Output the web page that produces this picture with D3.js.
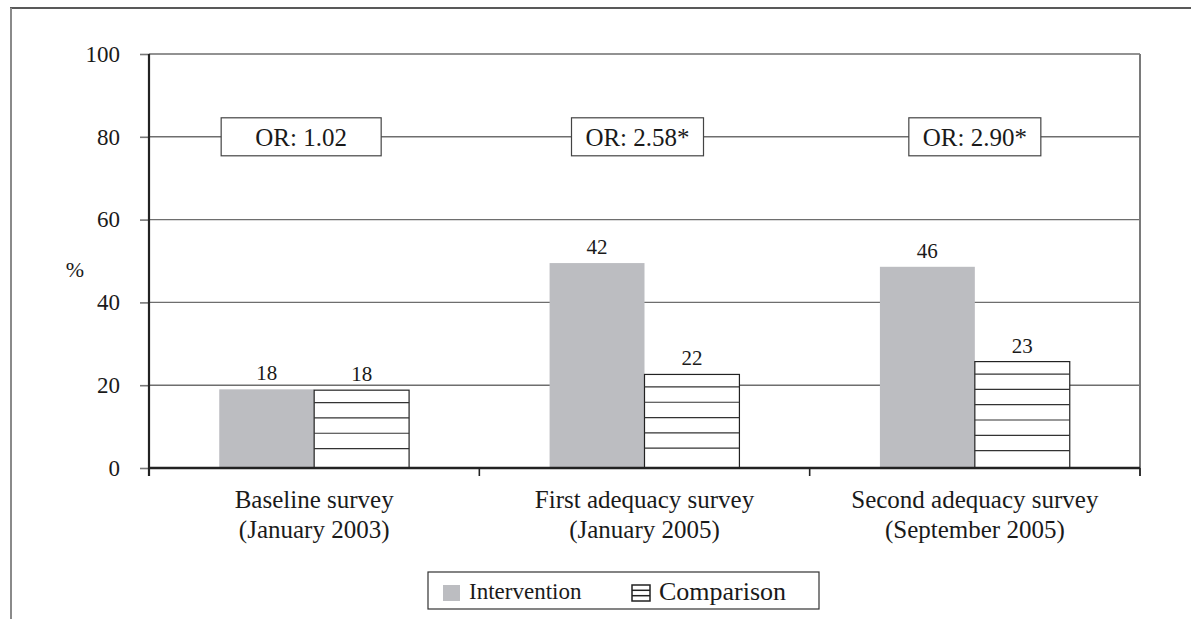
<!DOCTYPE html>
<html>
<head>
<meta charset="utf-8">
<script src="https://cdn.jsdelivr.net/npm/d3@7"></script>
<style>
  body { margin: 0; background: #fff; }
  svg { display: block; font-family: 'Liberation Serif', 'Times New Roman', serif; }
</style>
</head>
<body>
<svg id="chart" width="1191" height="619"></svg>
<script>
const categories = ['Baseline survey', 'First adequacy survey', 'Second adequacy survey']
const categoryDates = ['(January 2003)', '(January 2005)', '(September 2005)']
const seriesNames = ['Intervention', 'Comparison']
// bar heights as drawn in the picture
const interventionValues = [19, 49.5, 48.6]
const comparisonValues = [18.8, 22.6, 25.7]
// printed value labels
const interventionLabels = ['18', '42', '46']
const comparisonLabels = ['18', '22', '23']
const oddsRatios = ['OR: 1.02', 'OR: 2.58*', 'OR: 2.90*']
const orBoxShift = [-13, -7, 0]
const orBoxWidth = [160, 132, 132]
const yTicks = [0, 20, 40, 60, 80, 100]
const orLevel = 80

const margin = { top: 54, left: 149, right: 51, bottom: 151 }
const width = 1191
const height = 619
const plotW = width - margin.left - margin.right
const plotH = height - margin.top - margin.bottom
const ink = '#1a1a1a'

const svg = d3.select('#chart')

// page frame (cut out of a document)
svg.append('line')
  .attr('x1', 10).attr('x2', width).attr('y1', 8).attr('y2', 8)
  .style('stroke', '#222').style('stroke-width', 1.6)
svg.append('line')
  .attr('x1', 11).attr('x2', 11).attr('y1', 8).attr('y2', height)
  .style('stroke', '#8a8a8a').style('stroke-width', 2)

let g = svg.append('g')
  .attr('transform', `translate(${margin.left},${margin.top})`)

let xScale = d3.scaleBand()
  .domain(categories)
  .range([0, plotW])
let xSub = d3.scaleBand()
  .domain(seriesNames)
  .range([0, xScale.step()])
  .paddingInner(0)
  .paddingOuter(0.74)
let yScale = d3.scaleLinear()
  .domain([0, 100])
  .range([plotH, 0])

// grid lines
g.selectAll('.grid')
  .data(yTicks.filter(v => v > 0))
  .enter()
  .append('line')
  .classed('grid', true)
  .attr('x1', 0).attr('x2', plotW)
  .attr('y1', d => yScale(d)).attr('y2', d => yScale(d))
  .style('stroke', '#6e6e6e')
  .style('stroke-width', 1.4)
// right border
g.append('line')
  .attr('x1', plotW).attr('x2', plotW)
  .attr('y1', yScale(100)).attr('y2', plotH + 8)
  .style('stroke', '#7a7a7a').style('stroke-width', 2)

// y axis
let yAxis = g.append('g')
  .call(d3.axisLeft(yScale).tickValues(yTicks).tickSize(9).tickPadding(20))
yAxis.select('.domain').remove()
yAxis.selectAll('line').style('stroke', '#777').style('stroke-width', 1.6)
yAxis.selectAll('text')
  .style('font-family', "'Liberation Serif', serif")
  .style('font-size', '23px')
  .style('fill', ink)
g.append('line')
  .attr('x1', 0).attr('x2', 0)
  .attr('y1', yScale(100)).attr('y2', plotH + 8)
  .style('stroke', '#222').style('stroke-width', 2.2)

svg.append('text')
  .attr('x', 75).attr('y', 277)
  .attr('text-anchor', 'middle')
  .style('font-size', '22px')
  .style('fill', ink)
  .text('%')

// bars
let groups = g.selectAll('.group')
  .data(categories)
  .enter()
  .append('g')
  .classed('group', true)
  .attr('transform', d => `translate(${xScale(d)},0)`)

groups.append('rect')
  .attr('x', xSub('Intervention'))
  .attr('width', xSub.bandwidth())
  .attr('y', (d, i) => yScale(interventionValues[i]))
  .attr('height', (d, i) => plotH - yScale(interventionValues[i]))
  .style('fill', '#bcbdc1')

groups.append('rect')
  .attr('x', xSub('Comparison'))
  .attr('width', xSub.bandwidth())
  .attr('y', (d, i) => yScale(comparisonValues[i]))
  .attr('height', (d, i) => plotH - yScale(comparisonValues[i]))
  .style('fill', '#fff')
  .style('stroke', '#222')
  .style('stroke-width', 1.2)

// hatching inside comparison bars
groups.each(function (d, i) {
  let top = yScale(comparisonValues[i])
  let rows = d3.range(top + 12.5, plotH - 6, 15.3)
  d3.select(this).selectAll('.hatch')
    .data(rows)
    .enter()
    .append('line')
    .classed('hatch', true)
    .attr('x1', xSub('Comparison'))
    .attr('x2', xSub('Comparison') + xSub.bandwidth())
    .attr('y1', v => v).attr('y2', v => v)
    .style('stroke', '#333')
    .style('stroke-width', 1.2)
})

// value labels
groups.append('text')
  .attr('x', xSub('Intervention') + xSub.bandwidth() / 2)
  .attr('y', (d, i) => yScale(interventionValues[i]) - 9)
  .attr('text-anchor', 'middle')
  .style('font-size', '21px')
  .style('fill', ink)
  .text((d, i) => interventionLabels[i])
groups.append('text')
  .attr('x', xSub('Comparison') + xSub.bandwidth() / 2)
  .attr('y', (d, i) => yScale(comparisonValues[i]) - 9)
  .attr('text-anchor', 'middle')
  .style('font-size', '21px')
  .style('fill', ink)
  .text((d, i) => comparisonLabels[i])

// odds ratio boxes on the 80 line
groups.append('rect')
  .attr('x', (d, i) => xScale.bandwidth() / 2 + orBoxShift[i] - orBoxWidth[i] / 2)
  .attr('width', (d, i) => orBoxWidth[i])
  .attr('y', yScale(orLevel) - 19)
  .attr('height', 38)
  .style('fill', '#fff')
  .style('stroke', '#444')
  .style('stroke-width', 1.2)
groups.append('text')
  .attr('x', (d, i) => xScale.bandwidth() / 2 + orBoxShift[i])
  .attr('y', yScale(orLevel) + 9)
  .attr('text-anchor', 'middle')
  .style('font-size', '25px')
  .style('fill', ink)
  .text((d, i) => oddsRatios[i])

// x axis
g.append('line')
  .attr('x1', 0).attr('x2', plotW)
  .attr('y1', plotH).attr('y2', plotH)
  .style('stroke', '#222').style('stroke-width', 2.4)
g.selectAll('.xtick')
  .data(d3.range(categories.length + 1))
  .enter()
  .append('line')
  .classed('xtick', true)
  .attr('x1', i => i * xScale.step()).attr('x2', i => i * xScale.step())
  .attr('y1', plotH).attr('y2', plotH + 8)
  .style('stroke', '#222').style('stroke-width', 1.6)

groups.append('text')
  .attr('x', xScale.bandwidth() / 2)
  .attr('y', plotH + 40)
  .attr('text-anchor', 'middle')
  .style('font-size', '25px')
  .style('fill', ink)
  .text(d => d)
groups.append('text')
  .attr('x', xScale.bandwidth() / 2)
  .attr('y', plotH + 70)
  .attr('text-anchor', 'middle')
  .style('font-size', '25px')
  .style('fill', ink)
  .text((d, i) => categoryDates[i])

// legend
let legend = svg.append('g').attr('transform', 'translate(428,572)')
legend.append('rect')
  .attr('width', 391).attr('height', 37)
  .style('fill', '#fff')
  .style('stroke', '#333')
  .style('stroke-width', 1.2)
legend.append('rect')
  .attr('x', 15).attr('y', 13).attr('width', 17).attr('height', 16)
  .style('fill', '#bcbdc1')
legend.append('text')
  .attr('x', 41).attr('y', 27)
  .style('font-size', '23px')
  .style('fill', ink)
  .text(seriesNames[0])
let swatch = legend.append('g').attr('transform', 'translate(204,13)')
swatch.append('rect')
  .attr('width', 18).attr('height', 16)
  .style('fill', '#fff')
  .style('stroke', '#222')
  .style('stroke-width', 1.5)
swatch.selectAll('line')
  .data([5.3, 10.7])
  .enter()
  .append('line')
  .attr('x1', 0).attr('x2', 18)
  .attr('y1', d => d).attr('y2', d => d)
  .style('stroke', '#222').style('stroke-width', 1.5)
legend.append('text')
  .attr('x', 231).attr('y', 28)
  .style('font-size', '26px')
  .style('fill', ink)
  .text(seriesNames[1])
</script>
</body>
</html>
